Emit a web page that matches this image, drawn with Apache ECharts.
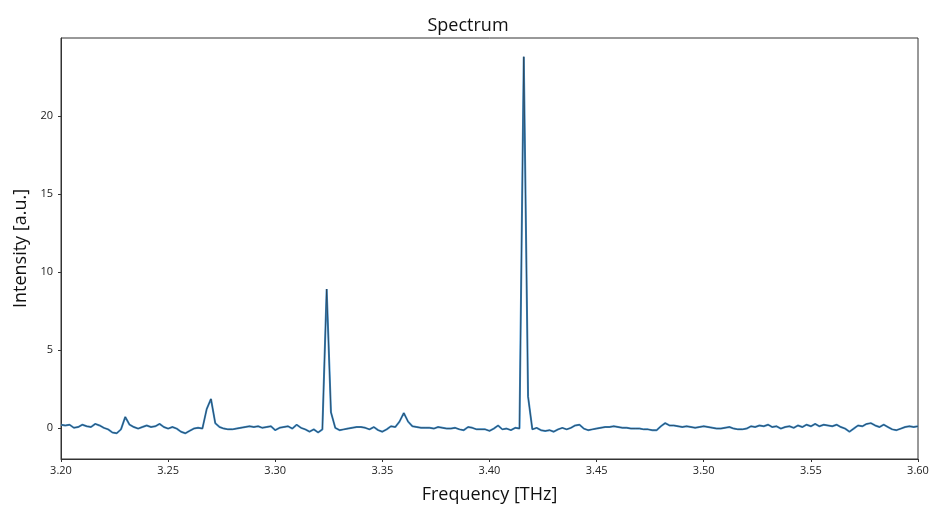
<!DOCTYPE html>
<html>
<head>
<meta charset="utf-8">
<script src="https://cdn.jsdelivr.net/npm/echarts@6/dist/echarts.min.js"></script>
<style>
  html, body { margin: 0; padding: 0; background: #fff; }
  #chart { width: 936px; height: 510px; }
</style>
</head>
<body>
<div id="chart"></div>
<script>
// frequency grid, THz (step 0.002)
const freqStart = 3.2;
const freqStep = 0.002;

// intensity, a.u.
const intensity = [
    0.2, 0.15, 0.2, 0.0, 0.05, 0.2, 0.1, 0.05, 0.25, 0.15,
    0.0, -0.1, -0.3, -0.35, -0.1, 0.7, 0.2, 0.05, -0.05, 0.05,
    0.15, 0.05, 0.1, 0.25, 0.05, -0.05, 0.05, -0.05, -0.25, -0.35,
    -0.2, -0.05, 0.0, -0.05, 1.2, 1.85, 0.3, 0.05, -0.05, -0.1,
    -0.1, -0.05, 0.0, 0.05, 0.1, 0.05, 0.1, 0.0, 0.05, 0.1,
    -0.15, 0.0, 0.05, 0.1, -0.05, 0.2, 0.0, -0.1, -0.25, -0.1,
    -0.3, -0.1, 8.9, 1.0, 0.0, -0.15, -0.1, -0.05, 0.0, 0.05,
    0.05, 0.0, -0.1, 0.05, -0.15, -0.25, -0.1, 0.1, 0.05, 0.4,
    0.95, 0.4, 0.1, 0.05, 0.0, 0.0, 0.0, -0.05, 0.05, 0.0,
    -0.05, -0.05, 0.0, -0.1, -0.15, 0.05, 0.0, -0.1, -0.1, -0.1,
    -0.2, -0.05, 0.15, -0.1, -0.05, -0.15, 0.0, -0.05, 23.8, 2.0,
    -0.1, 0.0, -0.15, -0.2, -0.15, -0.25, -0.1, 0.0, -0.1, 0.0,
    0.15, 0.2, -0.05, -0.15, -0.1, -0.05, 0.0, 0.05, 0.05, 0.1,
    0.05, 0.0, 0.0, -0.05, -0.05, -0.05, -0.1, -0.1, -0.15, -0.15,
    0.1, 0.3, 0.15, 0.15, 0.1, 0.05, 0.1, 0.05, 0.0, 0.05,
    0.1, 0.05, 0.0, -0.05, -0.05, 0.0, 0.05, -0.05, -0.1, -0.1,
    -0.05, 0.1, 0.05, 0.15, 0.1, 0.2, 0.05, 0.1, -0.05, 0.05,
    0.1, 0.0, 0.15, 0.05, 0.2, 0.1, 0.25, 0.1, 0.2, 0.15,
    0.1, 0.2, 0.05, -0.05, -0.25, -0.05, 0.15, 0.1, 0.25, 0.3,
    0.15, 0.05, 0.2, 0.05, -0.1, -0.15, -0.05, 0.05, 0.1, 0.05,
    0.1
];

const yTicks = [0, 5, 10, 15, 20];

const points = intensity.map((v, i) => [freqStart + i * freqStep, v]);

const chart = echarts.init(document.getElementById('chart'));
const font = 'Open Sans';

chart.setOption({
    animation: false,
    title: {
        text: 'Spectrum',
        left: 'center',
        top: 12,
        textStyle: { fontFamily: font, fontSize: 18, fontWeight: 'normal', color: '#111' }
    },
    grid: {
        left: 61, right: 18, top: 38, bottom: 51,
        show: true, borderColor: '#333', borderWidth: 1
    },
    xAxis: {
        type: 'value',
        min: 3.2, max: 3.6, interval: 0.05,
        name: 'Frequency [THz]',
        nameLocation: 'middle',
        nameGap: 27,
        nameTextStyle: { fontFamily: font, fontSize: 18, color: '#111' },
        axisLine: { onZero: false, lineStyle: { color: '#333' } },
        axisTick: { length: 3, lineStyle: { color: '#333' } },
        axisLabel: {
            fontFamily: font, fontSize: 11, color: '#222', margin: 6,
            formatter: v => v.toFixed(2)
        },
        splitLine: { show: false }
    },
    yAxis: {
        type: 'value',
        min: -2, max: 25,
        name: 'Intensity [a.u.]',
        nameLocation: 'middle',
        nameGap: 28,
        nameTextStyle: { fontFamily: font, fontSize: 18, color: '#111' },
        axisLine: { show: true, onZero: false, lineStyle: { color: '#333' } },
        axisTick: { show: true, length: 3, customValues: yTicks, lineStyle: { color: '#333' } },
        axisLabel: { fontFamily: font, fontSize: 11, color: '#222', margin: 8, customValues: yTicks },
        splitLine: { show: false }
    },
    series: [
        {
            type: 'line',
            data: points,
            showSymbol: false,
            lineStyle: { color: '#3a8fd0', width: 2 },
            z: 2
        },
        {
            type: 'line',
            data: points,
            showSymbol: false,
            lineStyle: { color: '#2f3a44', width: 1, opacity: 0.75 },
            z: 3
        }
    ]
});
</script>
</body>
</html>
